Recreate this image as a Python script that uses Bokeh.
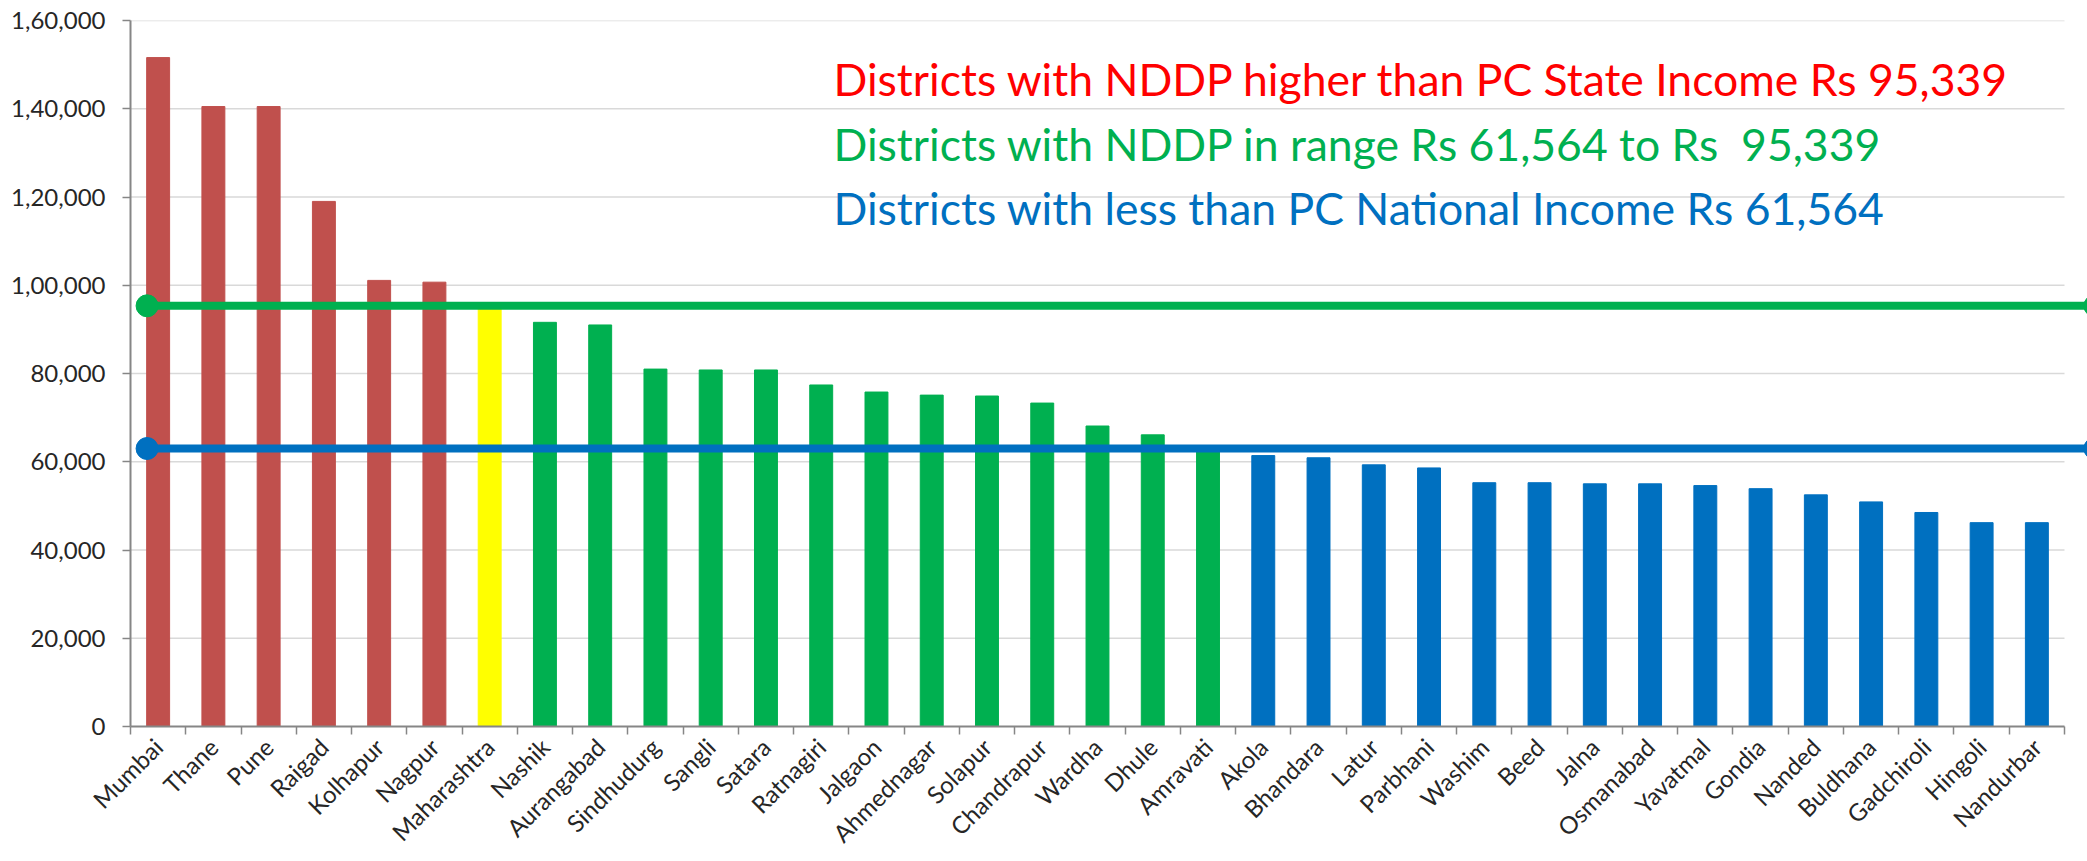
from bokeh.plotting import figure
from bokeh.models import Range1d, FixedTicker, Label, ColumnDataSource
from bokeh.embed import file_html
from bokeh.resources import INLINE
from math import pi

# ---------------- data ----------------
DISTRICTS = ["Mumbai", "Thane", "Pune", "Raigad", "Kolhapur", "Nagpur", "Maharashtra",
             "Nashik", "Aurangabad", "Sindhudurg", "Sangli", "Satara", "Ratnagiri", "Jalgaon",
             "Ahmednagar", "Solapur", "Chandrapur", "Wardha", "Dhule", "Amravati",
             "Akola", "Bhandara", "Latur", "Parbhani", "Washim", "Beed", "Jalna", "Osmanabad",
             "Yavatmal", "Gondia", "Nanded", "Buldhana", "Gadchiroli", "Hingoli", "Nandurbar"]
NDDP = [151600, 140500, 140500, 119000, 101100, 100700, 95339,
        91600, 91000, 81000, 80800, 80800, 77400, 75800,
        75100, 74900, 73300, 68100, 66100, 62800,
        61400, 60900, 59300, 58600, 55250, 55250, 55000, 55000,
        54600, 53900, 52500, 50900, 48500, 46200, 46200]
GROUP = (["high"] * 6 + ["state"] + ["mid"] * 13 + ["low"] * 15)

STATE_LINE = 95339      # green reference line
NATIONAL_LINE = 63000   # blue reference line (as drawn)

Y_TICKS = [0, 20000, 40000, 60000, 80000, 100000, 120000, 140000, 160000]
Y_TICK_LABELS = ["0", "20,000", "40,000", "60,000", "80,000", "1,00,000",
                 "1,20,000", "1,40,000", "1,60,000"]

LEGEND_TEXTS = ["Districts with NDDP higher than PC State Income Rs 95,339",
                "Districts with NDDP in range Rs 61,564 to Rs \u00a095,339",
                "Districts with less than PC National Income Rs 61,564"]

# ---------------- styles ----------------
GROUP_COLORS = {"high": "#C0504D", "state": "#FFFF00", "mid": "#00B050", "low": "#0070C0"}
FONT = "Lato"
TEXT_COL = "#262626"
AXIS_COL = "#868686"
GRID_COL = "#D9D9D9"

n = len(DISTRICTS)
centers = [i + 0.5 for i in range(n)]
colors = [GROUP_COLORS[g] for g in GROUP]

W, H = 2087, 861
LEFT, TOP, BOTTOM = 130, 20, 135
cat_px = (2064 - LEFT) / n
x_end = (W - LEFT) / cat_px

p = figure(width=W, height=H, output_backend="svg", toolbar_location=None,
           x_range=Range1d(0, x_end), y_range=Range1d(0, 160000),
           min_border_left=LEFT, min_border_right=0, min_border_top=TOP,
           min_border_bottom=BOTTOM)
p.outline_line_color = None
p.background_fill_color = "white"
p.border_fill_color = "white"
p.xgrid.visible = False
p.ygrid.visible = False

# gridlines (limited to the category span)
gy = Y_TICKS[1:]
p.segment(x0=[0] * len(gy), x1=[n] * len(gy), y0=gy, y1=gy,
          line_color=GRID_COL, line_width=1.5)

# bars
src = ColumnDataSource(dict(x=centers, top=NDDP, color=colors, name=DISTRICTS))
p.vbar(x="x", top="top", width=0.415, bottom=0, color="color", source=src)

# reference lines
x_line = [0.3, n + 0.55]
p.line(x_line, [STATE_LINE, STATE_LINE], line_color="#00B050", line_width=8)
p.scatter(x_line, [STATE_LINE, STATE_LINE], size=22, color="#00B050")
p.line(x_line, [NATIONAL_LINE, NATIONAL_LINE], line_color="#0070C0", line_width=8)
p.scatter(x_line, [NATIONAL_LINE, NATIONAL_LINE], size=22, color="#0070C0")

# x axis
xa = p.xaxis[0]
xa.ticker = FixedTicker(ticks=centers, minor_ticks=list(range(n + 1)))
xa.major_label_overrides = {c: d for c, d in zip(centers, DISTRICTS)}
xa.bounds = (0, n)
xa.major_label_orientation = pi / 4
xa.major_tick_line_color = None
xa.major_tick_out = 0
xa.major_tick_in = 0
xa.minor_tick_out = 8
xa.minor_tick_in = 0
xa.minor_tick_line_color = AXIS_COL
xa.minor_tick_line_width = 1.5
xa.axis_line_color = AXIS_COL
xa.axis_line_width = 2
xa.major_label_text_font = FONT
xa.major_label_text_font_size = "24px"
xa.major_label_text_color = TEXT_COL
xa.major_label_standoff = 8

# y axis
ya = p.yaxis[0]
ya.ticker = FixedTicker(ticks=Y_TICKS)
ya.major_label_overrides = {t: l for t, l in zip(Y_TICKS, Y_TICK_LABELS)}
ya.minor_tick_line_color = None
ya.major_tick_out = 8
ya.major_tick_in = 0
ya.major_tick_line_color = AXIS_COL
ya.major_tick_line_width = 1.5
ya.axis_line_color = AXIS_COL
ya.axis_line_width = 2
ya.major_label_text_font = FONT
ya.major_label_text_font_size = "24px"
ya.major_label_text_color = TEXT_COL
ya.major_label_standoff = 17

# legend-like texts
def px_to_x(px):
    return (px - LEFT) / cat_px

def px_to_y(py):
    return 160000 * (1 - (py - TOP) / (H - TOP - BOTTOM))

for txt, col, base in zip(LEGEND_TEXTS, ["#FF0000", "#00B050", "#0070C0"], [78, 143, 207]):
    p.add_layout(Label(x=px_to_x(833), y=px_to_y(base), text=txt, text_color=col,
                       text_font=FONT, text_font_size="44.5px", text_baseline="alphabetic"))

open("out.html", "w").write(file_html(p, INLINE))
